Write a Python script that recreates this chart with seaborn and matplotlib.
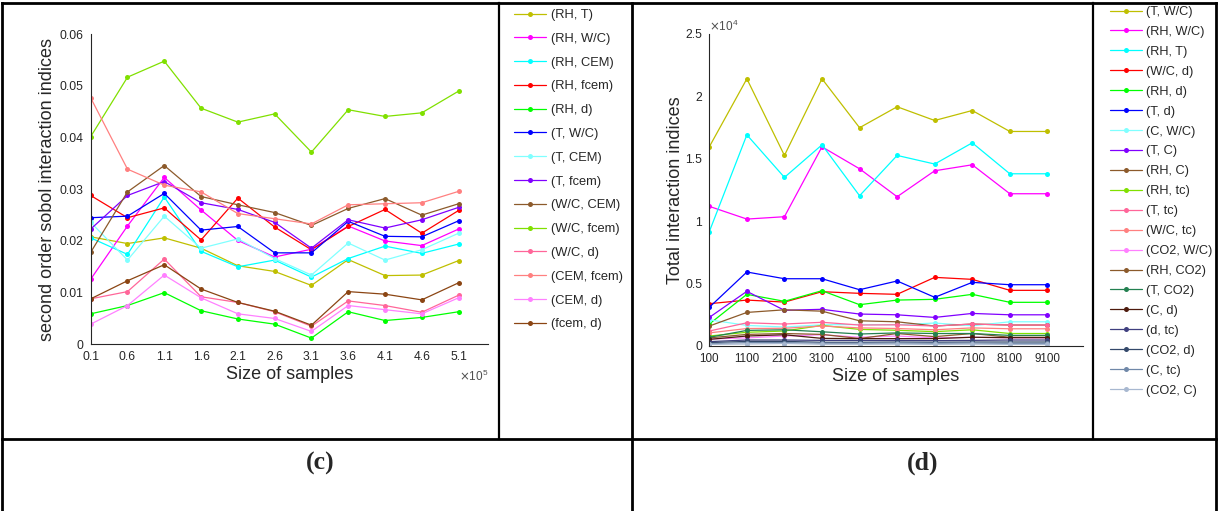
import pandas as pd
import seaborn as sns
import matplotlib.pyplot as plt
from matplotlib.lines import Line2D
from matplotlib.ticker import FuncFormatter

# ---- panel (c): second order sobol interaction indices ----
sizes_c = [10000, 60000, 110000, 160000, 210000, 260000, 310000, 360000, 410000, 460000, 510000]

rh_t = [0.0208, 0.0195, 0.0206, 0.0186, 0.0152, 0.0141, 0.0114, 0.0164, 0.0133, 0.0134, 0.0162]
rh_wc = [0.0126, 0.0229, 0.0323, 0.0260, 0.0201, 0.0169, 0.0184, 0.0229, 0.0200, 0.0191, 0.0223]
rh_cem = [0.0206, 0.0174, 0.0285, 0.0180, 0.0150, 0.0163, 0.0130, 0.0166, 0.0190, 0.0176, 0.0194]
rh_fcem = [0.0288, 0.0245, 0.0264, 0.0202, 0.0283, 0.0227, 0.0183, 0.0228, 0.0261, 0.0215, 0.0259]
rh_d = [0.0059, 0.0075, 0.0100, 0.0065, 0.0049, 0.0039, 0.0012, 0.0063, 0.0046, 0.0052, 0.0063]
t_wc = [0.0245, 0.0248, 0.0292, 0.0221, 0.0228, 0.0177, 0.0177, 0.0238, 0.0209, 0.0208, 0.0239]
t_cem = [0.0236, 0.0163, 0.0248, 0.0186, 0.0204, 0.0166, 0.0134, 0.0196, 0.0163, 0.0183, 0.0215]
t_fcem = [0.0223, 0.0288, 0.0315, 0.0274, 0.0261, 0.0236, 0.0186, 0.0241, 0.0225, 0.0241, 0.0265]
wc_cem = [0.0178, 0.0295, 0.0346, 0.0286, 0.0270, 0.0255, 0.0230, 0.0263, 0.0282, 0.0250, 0.0272]
wc_fcem = [0.0402, 0.0517, 0.0548, 0.0457, 0.0430, 0.0446, 0.0372, 0.0454, 0.0441, 0.0448, 0.0490]
wc_d = [0.0088, 0.0102, 0.0165, 0.0092, 0.0081, 0.0063, 0.0035, 0.0084, 0.0075, 0.0062, 0.0095]
cem_fcem = [0.0477, 0.0339, 0.0308, 0.0295, 0.0253, 0.0243, 0.0233, 0.0270, 0.0272, 0.0274, 0.0296]
cem_d = [0.0039, 0.0075, 0.0134, 0.0090, 0.0059, 0.0050, 0.0025, 0.0075, 0.0067, 0.0059, 0.0090]
fcem_d = [0.0088, 0.0123, 0.0154, 0.0107, 0.0081, 0.0064, 0.0037, 0.0102, 0.0097, 0.0086, 0.0119]

labels_c = ['(RH, T)', '(RH, W/C)', '(RH, CEM)', '(RH, fcem)', '(RH, d)', '(T, W/C)', '(T, CEM)',
            '(T, fcem)', '(W/C, CEM)', '(W/C, fcem)', '(W/C, d)', '(CEM, fcem)', '(CEM, d)', '(fcem, d)']
values_c = [rh_t, rh_wc, rh_cem, rh_fcem, rh_d, t_wc, t_cem, t_fcem, wc_cem, wc_fcem, wc_d,
            cem_fcem, cem_d, fcem_d]
colors_c = ['#bfbf00', '#ff00ff', '#00ffff', '#ff0000', '#00ff00', '#0000ff', '#80ffff',
            '#8000ff', '#8c5a2b', '#80e000', '#ff6699', '#ff8080', '#ff80ff', '#8b4513']

# ---- panel (d): total interaction indices ----
sizes_d = [100, 1100, 2100, 3100, 4100, 5100, 6100, 7100, 8100, 9100]

d_t_wc = [15960, 21410, 15270, 21410, 17490, 19170, 18070, 18870, 17190, 17190]
d_rh_wc = [11190, 10170, 10360, 15960, 14200, 11960, 14040, 14520, 12200, 12200]
d_rh_t = [9160, 16920, 13510, 16120, 12040, 15270, 14580, 16280, 13800, 13800]
d_wc_d = [3390, 3680, 3520, 4350, 4220, 4140, 5500, 5340, 4460, 4460]
d_rh_d = [1760, 4140, 3580, 4430, 3310, 3680, 3740, 4140, 3500, 3500]
d_t_d = [3100, 5930, 5390, 5390, 4510, 5210, 3900, 5100, 4910, 4910]
d_c_wc = [2100, 1650, 1520, 1700, 1720, 1700, 1840, 1620, 1940, 1940]
d_t_c = [2290, 4380, 2860, 2940, 2560, 2500, 2290, 2610, 2500, 2500]
d_rh_c = [1600, 2690, 2900, 2790, 2020, 1940, 1600, 1760, 1680, 1680]
d_rh_tc = [800, 1100, 1200, 1650, 1330, 1260, 1150, 1300, 1000, 1000]
d_t_tc = [1200, 1860, 1760, 1900, 1680, 1700, 1600, 1760, 1680, 1680]
d_wc_tc = [1050, 1400, 1420, 1600, 1450, 1400, 1300, 1450, 1380, 1380]
d_co2_wc = [560, 650, 800, 900, 700, 800, 650, 700, 650, 650]
d_rh_co2 = [650, 930, 1000, 930, 600, 1000, 750, 1000, 700, 700]
d_t_co2 = [700, 1250, 1300, 1140, 960, 1050, 1000, 1000, 850, 850]
d_c_d = [530, 800, 900, 610, 590, 590, 590, 700, 670, 670]
d_d_tc = [350, 480, 480, 450, 450, 450, 430, 450, 480, 480]
d_co2_d = [270, 370, 370, 300, 300, 320, 300, 320, 320, 320]
d_c_tc = [190, 270, 270, 220, 220, 230, 220, 230, 210, 210]
d_co2_c = [130, 160, 200, 140, 140, 150, 130, 150, 130, 130]

labels_d = ['(T, W/C)', '(RH, W/C)', '(RH, T)', '(W/C, d)', '(RH, d)', '(T, d)', '(C, W/C)',
            '(T, C)', '(RH, C)', '(RH, tc)', '(T, tc)', '(W/C, tc)', '(CO2, W/C)', '(RH, CO2)',
            '(T, CO2)', '(C, d)', '(d, tc)', '(CO2, d)', '(C, tc)', '(CO2, C)']
values_d = [d_t_wc, d_rh_wc, d_rh_t, d_wc_d, d_rh_d, d_t_d, d_c_wc, d_t_c, d_rh_c, d_rh_tc,
            d_t_tc, d_wc_tc, d_co2_wc, d_rh_co2, d_t_co2, d_c_d, d_d_tc, d_co2_d, d_c_tc, d_co2_c]
colors_d = ['#bfbf00', '#ff00ff', '#00ffff', '#ff0000', '#00ff00', '#0000ff', '#80ffff',
            '#8000ff', '#8c5a2b', '#80e000', '#ff6699', '#ff8080', '#ff80ff', '#8b5a2b',
            '#238050', '#4d1a0d', '#3f3f7f', '#33486a', '#7088a8', '#a8b8d0']

sns.set_style('white')
plt.rcParams['font.family'] = ['Liberation Sans', 'DejaVu Sans']
plt.rcParams['axes.edgecolor'] = '#262626'
plt.rcParams['xtick.color'] = '#262626'
plt.rcParams['ytick.color'] = '#262626'

W, H = 1218, 511
fig = plt.figure(figsize=(W / 100, H / 100), dpi=100)


def fx(x):
    return x / W


def fy(y):
    return 1 - y / H


def long_form(sizes, labels, values):
    rows = []
    for lab, vals in zip(labels, values):
        for s, v in zip(sizes, vals):
            rows.append({'size': s, 'value': v, 'pair': lab})
    return pd.DataFrame(rows)


def draw_panel(ax, sizes, labels, values, colors):
    df = long_form(sizes, labels, values)
    sns.lineplot(data=df, x='size', y='value', hue='pair', hue_order=labels,
                 palette=dict(zip(labels, colors)), marker='o', markersize=3.6,
                 markeredgewidth=0, linewidth=0.9, legend=False, errorbar=None, ax=ax)
    sns.despine(ax=ax)
    for sp in ax.spines.values():
        sp.set_linewidth(0.8)
    ax.tick_params(direction='in', length=3, width=0.7, labelsize=8.7, pad=5)
    ax.set_xlabel('Size of samples', fontsize=13, color='#262626', labelpad=2)


# panel (c)
ax1 = fig.add_axes([fx(90.7), fy(344.3), fx(488) - fx(90.7), fy(34.3) - fy(344.3)])
draw_panel(ax1, sizes_c, labels_c, values_c, colors_c)
ax1.set_xlim(10000, 550000)
ax1.set_ylim(0, 0.06)
ax1.set_xticks(sizes_c)
ax1.xaxis.set_major_formatter(FuncFormatter(lambda v, p: f'{v / 1e5:g}'))
ax1.set_yticks([0, 0.01, 0.02, 0.03, 0.04, 0.05, 0.06])
ax1.yaxis.set_major_formatter(FuncFormatter(lambda v, p: f'{v:g}'))
ax1.set_ylabel('second order sobol interaction indices', fontsize=13, color='#262626', labelpad=3)
ax1.text(1.0, -0.102, r'$\times\mathregular{10^{5}}$', transform=ax1.transAxes,
         ha='right', va='center', fontsize=8.5, color='#505050')

# panel (d)
ax2 = fig.add_axes([fx(709.3), fy(346), fx(1082.7) - fx(709.3), fy(34) - fy(346)])
draw_panel(ax2, sizes_d, labels_d, values_d, colors_d)
ax2.set_xlim(100, 10040)
ax2.set_ylim(0, 25000)
ax2.set_xticks(sizes_d)
ax2.tick_params(axis='x', labelsize=8.4)
ax2.set_yticks([0, 5000, 10000, 15000, 20000, 25000])
ax2.yaxis.set_major_formatter(FuncFormatter(lambda v, p: f'{v / 1e4:g}'))
ax2.set_ylabel('Total interaction indices', fontsize=13, color='#262626', labelpad=1)
ax2.text(0.0, 1.023, r'$\times\mathregular{10^{4}}$', transform=ax2.transAxes,
         ha='left', va='center', fontsize=8.5, color='#505050')

# legends in their own table cells
h_c = [Line2D([0], [0], color=c, marker='o', markersize=3.6, markeredgewidth=0, lw=0.9)
       for c in colors_c]
fig.legend(h_c, labels_c, loc='upper left', bbox_to_anchor=(fx(514), fy(9)), frameon=False,
           fontsize=9.3, handlelength=2.5, handletextpad=0.35, labelspacing=0.91,
           borderpad=0, borderaxespad=0)
h_d = [Line2D([0], [0], color=c, marker='o', markersize=3.6, markeredgewidth=0, lw=0.9)
       for c in colors_d]
fig.legend(h_d, labels_d, loc='upper left', bbox_to_anchor=(fx(1110), fy(6)), frameon=False,
           fontsize=9.2, handlelength=2.5, handletextpad=0.35, labelspacing=0.62,
           borderpad=0, borderaxespad=0)

# table grid
def rule(x0, y0, x1, y1, lw=2.0):
    fig.add_artist(Line2D([fx(x0), fx(x1)], [fy(y0), fy(y1)], color='black', lw=lw,
                          transform=fig.transFigure, solid_capstyle='projecting'))


rule(2, 3, 1216, 3)
rule(2, 3, 2, 511)
rule(1216, 3, 1216, 511)
rule(632, 3, 632, 511)
rule(2, 439, 1216, 439)
rule(498.5, 3, 498.5, 439, lw=1.6)
rule(1093, 3, 1093, 439, lw=1.6)

fig.text(fx(320), fy(463), '(c)', ha='center', va='center', fontsize=18.5,
         fontweight='bold', family='Liberation Serif')
fig.text(fx(923), fy(463), '(d)', ha='center', va='center', fontsize=18.5,
         fontweight='bold', family='Liberation Serif')

fig.savefig('out.png', dpi=100)
